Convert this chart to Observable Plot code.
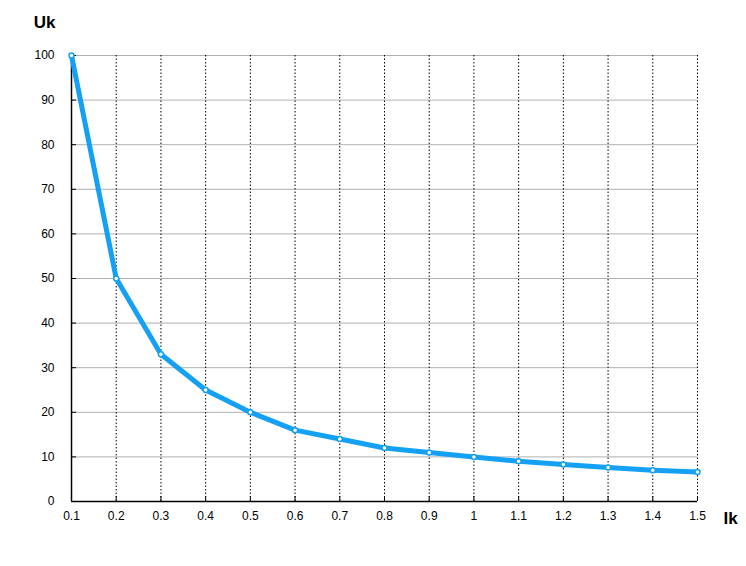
<!DOCTYPE html>
<html>
<head>
<meta charset="utf-8">
<script src="https://cdn.jsdelivr.net/npm/d3@7"></script>
<script src="https://cdn.jsdelivr.net/npm/@observablehq/plot@0.6"></script>
<style>
  html, body { margin: 0; padding: 0; background: #fff; }
  svg { display: block; }
  svg g[aria-label="x-axis tick label"] text,
  svg g[aria-label="y-axis tick label"] text { font-size: 12px; }
</style>
</head>
<body>
<div id="chart"></div>
<script>
const ik = [0.1, 0.2, 0.3, 0.4, 0.5, 0.6, 0.7, 0.8, 0.9, 1.0, 1.1, 1.2, 1.3, 1.4, 1.5];
const uk = [100, 50, 33, 25, 20, 16, 14, 12, 11, 10, 9, 8.3, 7.6, 7.0, 6.6];
const xTickLabels = ["0.1","0.2","0.3","0.4","0.5","0.6","0.7","0.8","0.9","1","1.1","1.2","1.3","1.4","1.5"];
const yTicks = [0, 10, 20, 30, 40, 50, 60, 70, 80, 90, 100];

const data = ik.map((x, i) => ({x, y: uk[i]}));
const blue = "#14a0f5";
const font = "'Liberation Sans', Arial, Helvetica, sans-serif";

const chart = Plot.plot({
  width: 746,
  height: 566,
  marginLeft: 71,
  marginRight: 49,
  marginTop: 55,
  marginBottom: 65,
  style: {fontFamily: font, fontSize: "12px", color: "#000", background: "#fff"},
  x: {domain: [0.1, 1.5], ticks: ik},
  y: {domain: [0, 100], ticks: yTicks},
  marks: [
    Plot.ruleY(yTicks.filter(d => d > 0), {stroke: "#b0b0b0", strokeWidth: 1}),
    Plot.ruleX(ik.filter(d => d > 0.1), {stroke: "#000", strokeWidth: 1, strokeDasharray: "1.5,2"}),
    Plot.axisX({ticks: ik, tickSize: -5, tickFormat: () => "", label: null, stroke: "#000"}),
    Plot.axisX({ticks: ik, tickSize: 0, tickPadding: 10, tickFormat: (d, i) => xTickLabels[i], label: null, fill: "#000", fontSize: 12}),
    Plot.axisY({ticks: yTicks, tickSize: -5, tickFormat: () => "", label: null, stroke: "#000"}),
    Plot.axisY({ticks: yTicks, tickSize: 0, tickPadding: 17, tickFormat: d => String(d), label: null, fill: "#000", fontSize: 12}),
    Plot.ruleX([0.1], {stroke: "#000", strokeWidth: 1.5}),
    Plot.ruleY([0], {stroke: "#000", strokeWidth: 1.5}),
    Plot.line(data, {x: "x", y: "y", stroke: blue, strokeWidth: 5, strokeLinejoin: "round", strokeLinecap: "round"}),
    Plot.dot(data, {x: "x", y: "y", r: 2.5, fill: "#fff", stroke: blue, strokeWidth: 1.5}),
    Plot.text(["Uk"], {frameAnchor: "top-left", dx: -27, dy: -28, textAnchor: "middle", lineAnchor: "bottom", fontWeight: "bold", fontSize: 17, fill: "#000"}),
    Plot.text(["Ik"], {frameAnchor: "bottom-right", dx: 33, dy: 22, textAnchor: "middle", lineAnchor: "bottom", fontWeight: "bold", fontSize: 17, fill: "#000"})
  ]
});
document.getElementById("chart").appendChild(chart);
</script>
</body>
</html>
